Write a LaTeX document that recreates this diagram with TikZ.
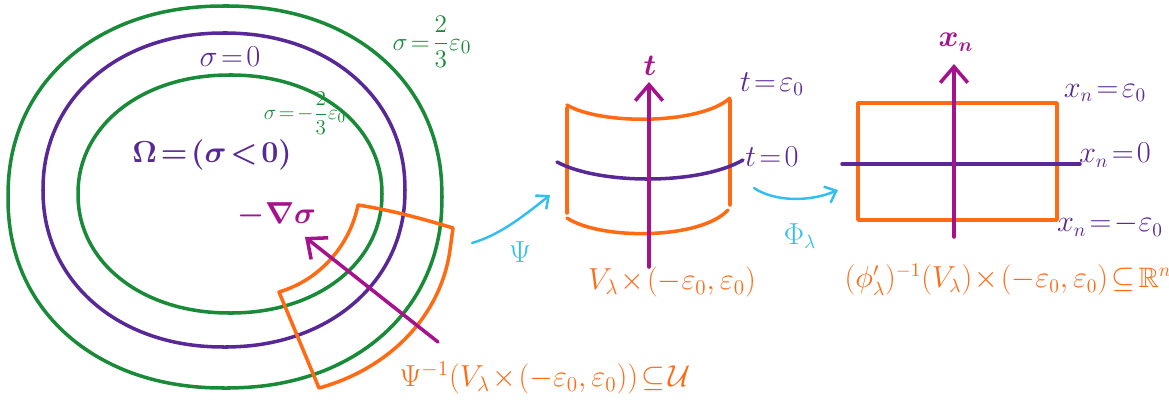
\documentclass[tikz,border=0pt]{standalone}
\usepackage{amsmath,amssymb,bm}
\usetikzlibrary{arrows.meta}
\definecolor{lgreen}{RGB}{24,138,56}
\definecolor{lpurple}{RGB}{88,40,150}
\definecolor{magen}{RGB}{165,18,140}
\definecolor{orng}{RGB}{255,106,20}
\definecolor{skyb}{RGB}{50,190,240}
\thickmuskip=2mu plus 1mu
\medmuskip=1.5mu

\begin{document}
\begin{tikzpicture}[x=0.02cm, y=-0.02cm,
  curve/.style={line width=2pt, line cap=round, line join=round},
  axis/.style={curve, magen, -{Straight Barb[length=3.2mm,width=5.5mm,line width=2pt]}},
  map/.style={line width=1.4pt, skyb, line cap=round, -{Straight Barb[length=2mm,width=3.5mm,line width=1.4pt]}},
  lab/.style={inner sep=0pt, font=\fontsize{16}{19}\selectfont},
  loop/.style={curve, domain=0:360, samples=90, smooth cycle}]
  \useasboundingbox (0,0) rectangle (1169,409);

  % level sets around Omega
  \draw[loop, lgreen] plot ({225+217*sign(cos(\x))*pow(abs(cos(\x)),0.93)}, {197+191*sign(sin(\x))*pow(abs(sin(\x)),0.93)});
  \draw[loop, lpurple] plot ({224+181*sign(cos(\x))*pow(abs(cos(\x)),0.95)}, {190+157*sign(sin(\x))*pow(abs(sin(\x)),0.95)});
  \draw[loop, lgreen] plot ({230+152*sign(cos(\x))*pow(abs(cos(\x)),0.96)}, {194+119*sign(sin(\x))*pow(abs(sin(\x)),0.96)});

  % chart patch in U
  \draw[curve, orng] (358,205) .. controls (350,245) and (320,280) .. (279,292)
    -- (319,388) .. controls (385,370) and (440,320) .. (450,250)
    -- (453,228) .. controls (420,218) and (390,210) .. cycle;

  \coordinate (gtail) at (438,342);
  \coordinate (ghead) at (305,237);
  \draw[axis] (gtail) -- (ghead);

  \node[lab, lpurple, font=\fontsize{18}{22}\selectfont\boldmath] (om) at (212,155) {$\Omega=(\sigma<0)$};
  \node[lab, lpurple] (s0) at (230,57) {$\sigma=0$};
  \node[lab, lgreen, font=\fontsize{15}{18}\selectfont] (sp) at (432,42) {$\sigma=\dfrac{2}{3}\varepsilon_0$};
  \node[lab, lgreen, font=\fontsize{12}{14}\selectfont] (sm) at (305,113) {$\sigma=-\dfrac{2}{3}\varepsilon_0$};
  \node[lab, magen, font=\fontsize{16}{19}\selectfont\boldmath] (grad) at (277,215) {$-\nabla\sigma$};
  \node[lab, orng, font=\fontsize{17}{20}\selectfont] (preim) at (545,378) {$\Psi^{-1}(V_\lambda\times(-\varepsilon_0,\varepsilon_0))\subseteq\mathcal{U}$};

  % middle picture
  \draw[curve, orng] (567,108) -- (567,213);
  \draw[curve, orng] (730,100) -- (730,205);
  \draw[curve, orng] (567,105) .. controls (600,125) and (700,125) .. (730,98);
  \draw[curve, orng] (567,218) .. controls (600,240) and (700,240) .. (728,210);
  \draw[curve, lpurple] (557,162) .. controls (600,185) and (700,185) .. (743,160);
  \coordinate (tbot) at (649,267);
  \coordinate (ttop) at (649,82);
  \draw[axis] (tbot) -- (ttop);

  \node[lab, magen, font=\fontsize{18}{21}\selectfont\boldmath] (t) at (650,66) {$t$};
  \node[lab, lpurple] (te) at (772,84) {$t=\varepsilon_0$};
  \node[lab, lpurple] (t0) at (772,157) {$t=0$};
  \node[lab, orng, font=\fontsize{18}{21}\selectfont] (vl) at (672,282) {$V_\lambda\times(-\varepsilon_0,\varepsilon_0)$};

  % right picture
  \draw[curve, orng] (858,103) rectangle (1057,220);
  \coordinate (hl) at (842,164);
  \coordinate (hr) at (1080,164);
  \draw[curve, lpurple] (hl) -- (hr);
  \coordinate (xbot) at (954,237);
  \coordinate (xtop) at (954,64);
  \draw[axis] (xbot) -- (xtop);

  \node[lab, magen, font=\fontsize{16}{19}\selectfont\boldmath] (xn) at (956,42) {$x_n$};
  \node[lab, lpurple] (xe) at (1105,93) {$x_n=\varepsilon_0$};
  \node[lab, lpurple] (x0) at (1115,155) {$x_n=0$};
  \node[lab, lpurple] (xm) at (1110,225) {$x_n=-\varepsilon_0$};
  \node[lab, orng] (rn) at (1008,280) {$(\phi'_\lambda)^{-1}(V_\lambda)\times(-\varepsilon_0,\varepsilon_0)\subseteq\mathbb{R}^n$};

  % maps
  \coordinate (psiA) at (472,243);
  \coordinate (psiB) at (550,195);
  \draw[map] (psiA) .. controls (500,235) and (525,215) .. (psiB);
  \node[lab, skyb] (psi) at (520,252) {$\Psi$};
  \coordinate (phiA) at (754,188);
  \coordinate (phiB) at (838,190);
  \draw[map] (phiA) .. controls (775,202) and (810,202) .. (phiB);
  \node[lab, skyb] (phi) at (800,236) {$\Phi_\lambda$};
\end{tikzpicture}
\end{document}
